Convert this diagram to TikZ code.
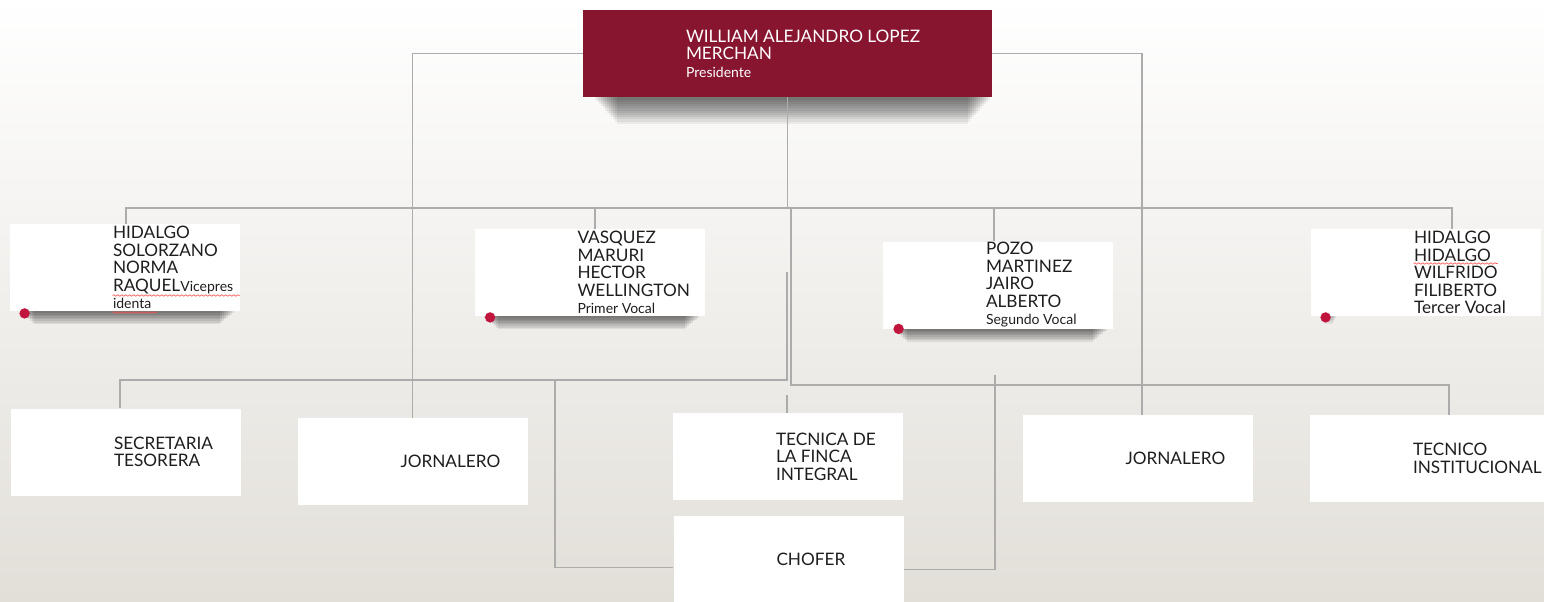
\documentclass[tikz,border=0pt]{standalone}
\usepackage{fontspec}
\setmainfont{Lato}
\usetikzlibrary{decorations.pathmorphing}

\definecolor{wine}{RGB}{136,21,48}
\definecolor{linegray}{RGB}{172,172,172}
\definecolor{dotred}{RGB}{192,22,62}
\definecolor{bgbottom}{RGB}{226,223,217}
\definecolor{ink}{RGB}{30,30,30}

\newcommand{\nm}{\fontsize{8.6}{8.75}\selectfont}
\newcommand{\rl}{\fontsize{7}{8.75}\selectfont}

\begin{document}
\begin{tikzpicture}[x=0.5pt,y=-0.5pt,
    box/.style={rectangle,fill=white,inner sep=0pt,minimum width=115pt,minimum height=43.5pt},
    shade/.style={fill=black,opacity=0.06},
    txt/.style={anchor=west,align=left,inner sep=0pt,text=ink,font=\nm},
    conn/.style={draw=linegray,line width=0.75pt},
    dot/.style={fill=dotred},
    squig/.style={draw=red!70,line width=0.3pt,decorate,decoration={snake,amplitude=0.4pt,segment length=2pt}}]

  \useasboundingbox (0,0) rectangle (1544,601);
  \fill[top color=white,bottom color=bgbottom] (0,0) rectangle (1544,601);

  % president
  \node[box,fill=wine,minimum width=204.5pt] (0) at (787.5,53.5) {};

  % board
  \node[box] (1) at (125,267.5) {};
  \node[box] (2) at (589.5,272.5) {};
  \node[box] (3) at (998,285) {};
  \node[box] (4) at (1426,272.5) {};

  % staff
  \node[box] (5) at (126,452) {};
  \node[box] (6) at (412.5,461.5) {};
  \node[box] (7) at (788,456.5) {};
  \node[box] (8) at (788.5,559.5) {};
  \node[box] (9) at (1137.5,458.5) {};
  \node[box,minimum width=117pt] (10) at (1427,458.5) {};

  % shadows under the boxes
  \foreach \i in {1,...,12}
    \fill[shade] ([shift={(10+2*\i,0)}]0.south west) rectangle ([shift={(-2*\i,2.2*\i)}]0.south east);
  \foreach \n in {1,2,3}
    \foreach \i in {1,...,8}
      \fill[shade,opacity=0.08] ([shift={(8+2*\i,0)}]\n.south west) rectangle ([shift={(-4-2*\i,1.6*\i)}]\n.south east);
  \foreach \i in {1,...,4}
    \fill[shade] ([shift={(10+\i,0)}]4.south west) rectangle ([shift={(26-\i,2*\i)}]4.south west);

  % connectors
  \coordinate (b) at (787.5,208);
  \coordinate (b2) at (791,208);
  \coordinate (m) at (787,272);
  \coordinate (c1) at (555,380);
  \coordinate (c2) at (995,375);
  \path[conn]
    (0.west) -| (6.north)
    (0.east) -| ([shift={(4.5,0)}]9.north)
    (0.south) -- (b)
    ([shift={(1,0)}]1.north) |- (b) -| ([shift={(26,0)}]4.north)
    ([shift={(5.5,0)}]2.north) |- (b)
    ([shift={(-4,0)}]3.north) |- (b)
    (b2) |- ++(0,177) -| ([shift={(22,0)}]10.north)
    (m) |- ++(0,108) -| ([shift={(-6,0)}]5.north)
    ([shift={(-1,0)}]7.north) -- ++(0,-18)
    (c1) |- ([shift={(0,8)}]8.west)
    (c2) |- ([shift={(0,10)}]8.east);

  % texts
  \node[txt,text=white] (0t) at ([shift={(103,0)}]0.west) {WILLIAM ALEJANDRO LOPEZ\\MERCHAN\\{\rl Presidente}};
  \node[txt] (1t) at ([shift={(103,0)}]1.west) {HIDALGO\\SOLORZANO\\NORMA\\RAQUEL{\rl Vicepres}\\{\rl identa}};
  \node[txt] (2t) at ([shift={(103,0)}]2.west) {VASQUEZ\\MARURI\\HECTOR\\WELLINGTON\\{\rl Primer Vocal}};
  \node[txt] (3t) at ([shift={(103,0)}]3.west) {POZO\\MARTINEZ\\JAIRO\\ALBERTO\\{\rl Segundo Vocal}};
  \node[txt] (4t) at ([shift={(103,0)}]4.west) {HIDALGO\\HIDALGO\\WILFRIDO\\FILIBERTO\\Tercer Vocal};
  \node[txt] (5t) at ([shift={(103,0)}]5.west) {SECRETARIA\\TESORERA};
  \node[txt] (6t) at ([shift={(103,0)}]6.west) {JORNALERO};
  \node[txt] (7t) at ([shift={(103,0)}]7.west) {TECNICA DE\\LA FINCA\\INTEGRAL};
  \node[txt] (8t) at ([shift={(103,0)}]8.west) {CHOFER};
  \node[txt] (9t) at ([shift={(103,0)}]9.west) {JORNALERO};
  \node[txt] (10t) at ([shift={(103,0)}]10.west) {TECNICO\\INSTITUCIONAL};

  % spelling marks
  \draw[squig] ([shift={(0,28)}]1t.west) -- ++(127,0);
  \draw[squig] ([shift={(0,45)}]1t.west) -- ++(44,0);
  \draw[squig] ([shift={(0,-9)}]4t.west) -- ++(84,0);

  % red dots
  \fill[dot] ([shift={(15,2)}]1.south west) circle (2.6pt);
  \fill[dot] ([shift={(16,1)}]2.south west) circle (2.6pt);
  \fill[dot] ([shift={(16,0)}]3.south west) circle (2.6pt);
  \fill[dot] ([shift={(15,1)}]4.south west) circle (2.6pt);
\end{tikzpicture}
\end{document}
